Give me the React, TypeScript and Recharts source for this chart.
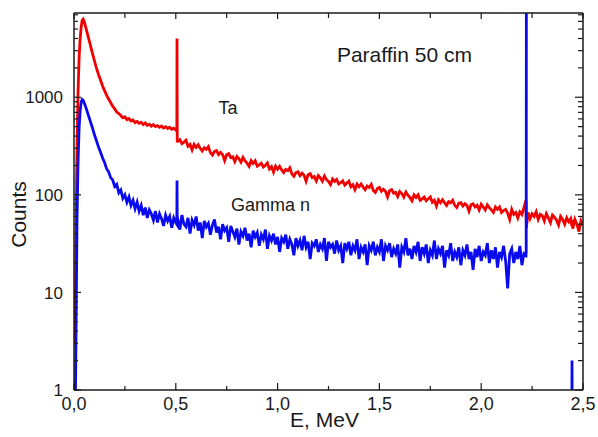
import React from 'react';
import { LineChart, Line, XAxis, YAxis, ReferenceDot } from 'recharts';

// Energy channels (MeV)
const energies = [
  0.005, 0.01, 0.015, 0.02, 0.025, 0.03, 0.035, 0.04, 0.045, 0.05,
  0.06, 0.07, 0.08, 0.09, 0.10, 0.11, 0.12, 0.13, 0.14, 0.15,
  0.16, 0.17, 0.18, 0.19, 0.20, 0.21, 0.22, 0.23, 0.24, 0.25,
  0.26, 0.27, 0.28, 0.29, 0.30, 0.31, 0.32, 0.33, 0.34, 0.35,
  0.36, 0.37, 0.38, 0.39, 0.40, 0.41, 0.42, 0.43, 0.44, 0.45,
  0.46, 0.47, 0.48, 0.49, 0.50, 0.505, 0.506, 0.507,
  0.51, 0.52, 0.53, 0.54, 0.55, 0.56, 0.57, 0.58, 0.59, 0.60,
  0.61, 0.62, 0.63, 0.64, 0.65, 0.66, 0.67, 0.68, 0.69, 0.70,
  0.71, 0.72, 0.73, 0.74, 0.75, 0.76, 0.77, 0.78, 0.79, 0.80,
  0.81, 0.82, 0.83, 0.84, 0.85, 0.86, 0.87, 0.88, 0.89, 0.90,
  0.91, 0.92, 0.93, 0.94, 0.95, 0.96, 0.97, 0.98, 0.99, 1.00,
  1.01, 1.02, 1.03, 1.04, 1.05, 1.06, 1.07, 1.08, 1.09, 1.10,
  1.11, 1.12, 1.13, 1.14, 1.15, 1.16, 1.17, 1.18, 1.19, 1.20,
  1.21, 1.22, 1.23, 1.24, 1.25, 1.26, 1.27, 1.28, 1.29, 1.30,
  1.31, 1.32, 1.33, 1.34, 1.35, 1.36, 1.37, 1.38, 1.39, 1.40,
  1.41, 1.42, 1.43, 1.44, 1.45, 1.46, 1.47, 1.48, 1.49, 1.50,
  1.51, 1.52, 1.53, 1.54, 1.55, 1.56, 1.57, 1.58, 1.59, 1.60,
  1.61, 1.62, 1.63, 1.64, 1.65, 1.66, 1.67, 1.68, 1.69, 1.70,
  1.71, 1.72, 1.73, 1.74, 1.75, 1.76, 1.77, 1.78, 1.79, 1.80,
  1.81, 1.82, 1.83, 1.84, 1.85, 1.86, 1.87, 1.88, 1.89, 1.90,
  1.91, 1.92, 1.93, 1.94, 1.95, 1.96, 1.97, 1.98, 1.99, 2.00,
  2.01, 2.02, 2.03, 2.04, 2.05, 2.06, 2.07, 2.08, 2.09, 2.10,
  2.11, 2.12, 2.13, 2.14, 2.15, 2.16, 2.17, 2.18, 2.19, 2.20,
  2.21, 2.22, 2.221, 2.222,
  2.23, 2.24, 2.25, 2.26, 2.27, 2.28, 2.29, 2.30, 2.31, 2.32,
  2.33, 2.34, 2.35, 2.36, 2.37, 2.38, 2.39, 2.40, 2.41, 2.42,
  2.43, 2.44, 2.445, 2.446, 2.447, 2.45, 2.46, 2.47, 2.48, 2.49, 2.50,
];

// Ta spectrum (red)
const taCounts = [
  3, 45, 320, 1150, 2500, 3900, 5200, 6100, 6300, 6000,
  5000, 4150, 3450, 2850, 2380, 2000, 1720, 1500, 1310, 1170,
  1050, 960, 880, 810, 760, 705, 680, 650, 615, 630,
  590, 605, 570, 585, 550, 565, 540, 555, 525, 545,
  515, 530, 505, 525, 500, 512, 492, 508, 485, 498,
  478, 492, 470, 482, 462, 468, 4000, 345,
  355, 368, 335, 347, 362, 314, 328, 288, 329, 306,
  326, 300, 281, 304, 293, 312, 271, 256, 279, 284,
  258, 272, 258, 224, 258, 264, 241, 245, 219, 247,
  235, 216, 242, 223, 211, 196, 224, 210, 223, 197,
  203, 211, 193, 201, 212, 184, 194, 171, 197, 183,
  196, 180, 169, 182, 177, 189, 164, 155, 169, 172,
  157, 167, 159, 138, 161, 165, 150, 154, 139, 157,
  149, 138, 156, 143, 137, 127, 145, 137, 144, 129,
  133, 139, 126, 132, 138, 121, 127, 113, 129, 121,
  129, 120, 113, 123, 119, 128, 111, 106, 116, 119,
  109, 114, 109, 95, 110, 113, 104, 106, 96, 108,
  103, 95, 107, 99, 94, 87, 100, 94, 100, 88,
  91, 95, 87, 91, 95, 84, 88, 77, 89, 83,
  89, 83, 78, 85, 83, 88, 78, 74, 82, 83,
  77, 81, 78, 68, 79, 81, 75, 78, 70, 80,
  75, 70, 79, 74, 70, 66, 75, 71, 75, 66,
  69, 71, 65, 56, 71, 63, 66, 58, 67, 63,
  74, 88, 58, 46,
  66, 57, 64, 60, 67, 56, 63, 61, 54, 64,
  58, 52, 62, 59, 55, 49, 60, 56, 50, 58,
  53, 57, 48, 55, 52, 45, 56, 50, 42, 54, 49,
];

// Gamma n spectrum (blue)
const gammaCounts: (number | null)[] = [
  0.3, 4, 60, 220, 480, 720, 880, 950, 930, 880,
  770, 660, 570, 490, 415, 360, 310, 275, 240, 215,
  185, 172, 150, 142, 122, 128, 105, 112, 92, 100,
  84, 95, 78, 88, 72, 84, 68, 78, 62, 74,
  58, 70, 64, 55, 68, 52, 64, 57, 48, 62,
  54, 60, 46, 58, 52, 50, 140, 54,
  56, 44, 62, 50, 47, 58, 40, 55, 49, 60,
  43, 52, 36, 54, 47, 51, 39, 49, 56, 41,
  47, 35, 50, 43, 46, 33, 48, 42, 37, 45,
  31, 42, 38, 46, 34, 40, 29, 43, 37, 41,
  30, 39, 35, 44, 28, 38, 34, 40, 31, 37,
  26, 36, 33, 39, 28, 35, 31, 24, 36, 30,
  34, 27, 38, 29, 33, 22, 32, 30, 35, 26,
  31, 28, 36, 21, 33, 29, 31, 25, 34, 27,
  30, 20, 32, 28, 33, 24, 30, 27, 35, 22,
  29, 26, 31, 19, 30, 27, 33, 24, 29, 26,
  35, 21, 30, 27, 32, 23, 28, 25, 31, 18,
  29, 26, 36, 24, 28, 22, 30, 26, 33, 21,
  29, 25, 31, 20, 27, 24, 34, 22, 28, 25,
  30, 18, 27, 24, 32, 21, 26, 23, 29, 19,
  27, 24, 31, 22, 26, 17, 28, 23, 30, 21,
  26, 24, 32, 20, 27, 22, 29, 18, 26, 23,
  30, 21, 11, 25, 28, 20, 26, 22, 30, 19,
  25, 24, 26, 30000,
  null, null, null, null, null, null, null, null, null, null,
  null, null, null, null, null, null, null, null, null, null,
  null, null, 0.3, 2, 0.3, null, null, null, null, null, null,
];

const xMajorTicks = [0, 0.5, 1.0, 1.5, 2.0, 2.5];
const xMinorTicks = [0.25, 0.75, 1.25, 1.75, 2.25];
const yMajorTicks = [1, 10, 100, 1000];
const yMinorTicks = [
  2, 3, 4, 5, 6, 7, 8, 9,
  20, 30, 40, 50, 60, 70, 80, 90,
  200, 300, 400, 500, 600, 700, 800, 900,
  2000, 3000, 4000, 5000, 6000, 7000,
];

const noteTexts = ['Paraffin 50 cm', 'Ta', 'Gamma n'];
const noteEnergies = [1.623, 0.756, 0.965];
const noteCounts = [2750, 780, 79];

const data = energies.map((e, i) => ({ e, ta: taCounts[i], gamma: gammaCounts[i] }));

const INK = '#1a1a1a';
const FONT = '"Liberation Sans", Arial, Helvetica, sans-serif';

const fmtX = (v: number) => v.toFixed(1).replace('.', ',');
const isMajorX = (v: number) => xMajorTicks.some((t) => Math.abs(t - v) < 1e-9);
const isMajorY = (v: number) => yMajorTicks.some((t) => Math.abs(t - v) < 1e-9);

const BottomTick = (p: any) => {
  const v = p.payload.value;
  const major = isMajorX(v);
  return (
    <g>
      <line x1={p.x} x2={p.x} y1={p.y} y2={p.y - (major ? 7 : 4)} stroke={INK} strokeWidth={1.2} />
      {major && (
        <text x={p.x} y={p.y + 7} dy="0.71em" textAnchor="middle" fontSize={18} fill={INK} fontFamily={FONT}>
          {fmtX(v)}
        </text>
      )}
    </g>
  );
};

const TopTick = (p: any) => {
  const major = isMajorX(p.payload.value);
  return <line x1={p.x} x2={p.x} y1={p.y} y2={p.y + (major ? 6 : 5)} stroke={INK} strokeWidth={1.2} />;
};

const LeftTick = (p: any) => {
  const v = p.payload.value;
  const major = isMajorY(v);
  return (
    <g>
      <line x1={p.x} x2={p.x + (major ? 7 : 4)} y1={p.y} y2={p.y} stroke={INK} strokeWidth={1.2} />
      {major && (
        <text x={p.x - 11} y={p.y} dy="0.36em" textAnchor="end" fontSize={17} fill={INK} fontFamily={FONT}>
          {String(v)}
        </text>
      )}
    </g>
  );
};

const RightTick = (p: any) => {
  const major = isMajorY(p.payload.value);
  return <line x1={p.x} x2={p.x - (major ? 8 : 5)} y1={p.y} y2={p.y} stroke={INK} strokeWidth={1.2} />;
};

const XTitle = (props: any) => {
  const vb = props.viewBox || { x: 74, y: 390, width: 509, height: 47 };
  return (
    <text x={vb.x + vb.width / 2 - 4} y={vb.y + vb.height - 10} textAnchor="middle" fontSize={21} fill={INK} fontFamily={FONT}>
      E, MeV
    </text>
  );
};

const YTitle = (props: any) => {
  const vb = props.viewBox || { x: 0, y: 13, width: 74, height: 377 };
  const x = vb.x + 26;
  const y = vb.y + vb.height / 2 + 13;
  return (
    <text x={x} y={y} transform={`rotate(-90 ${x} ${y})`} textAnchor="middle" fontSize={21} fill={INK} fontFamily={FONT}>
      Counts
    </text>
  );
};

const frame = { stroke: INK, strokeWidth: 1.5 };

export default function App() {
  return (
    <div style={{ position: 'absolute', left: 0, top: 0, width: 598, height: 437, background: '#fff', fontFamily: FONT }}>
      <LineChart width={598} height={437} data={data} margin={{ top: 13, right: 15, bottom: 0, left: 0 }}>
        <XAxis
          xAxisId="x"
          type="number"
          dataKey="e"
          domain={[0, 2.5]}
          allowDataOverflow
          ticks={[...xMajorTicks, ...xMinorTicks]}
          interval={0}
          height={47}
          tickSize={0}
          tickMargin={0}
          tickLine={false}
          tick={BottomTick}
          axisLine={frame}
          label={{ value: 'E, MeV', content: XTitle }}
        />
        <XAxis
          xAxisId="xt"
          orientation="top"
          mirror
          type="number"
          dataKey="e"
          domain={[0, 2.5]}
          allowDataOverflow
          ticks={[...xMajorTicks, ...xMinorTicks]}
          interval={0}
          height={1}
          tickSize={0}
          tickMargin={0}
          tickLine={false}
          tick={TopTick}
          axisLine={frame}
        />
        <YAxis
          yAxisId="y"
          type="number"
          scale="log"
          domain={[1, 7300]}
          allowDataOverflow
          ticks={[...yMajorTicks, ...yMinorTicks]}
          interval={0}
          width={74}
          tickSize={0}
          tickMargin={0}
          tickLine={false}
          tick={LeftTick}
          axisLine={frame}
          label={{ value: 'Counts', content: YTitle }}
        />
        <YAxis
          yAxisId="yr"
          orientation="right"
          mirror
          type="number"
          scale="log"
          domain={[1, 7300]}
          allowDataOverflow
          ticks={[...yMajorTicks, ...yMinorTicks]}
          interval={0}
          width={1}
          tickSize={0}
          tickMargin={0}
          tickLine={false}
          tick={RightTick}
          axisLine={frame}
        />
        <Line
          xAxisId="x"
          yAxisId="y"
          type="linear"
          dataKey="ta"
          stroke="#f20000"
          strokeWidth={2.8}
          strokeLinejoin="miter"
          dot={false}
          isAnimationActive={false}
          connectNulls={false}
        />
        <Line
          xAxisId="x"
          yAxisId="y"
          type="linear"
          dataKey="gamma"
          stroke="#0a0aee"
          strokeWidth={2.8}
          strokeLinejoin="miter"
          dot={false}
          isAnimationActive={false}
          connectNulls={false}
        />
        <ReferenceDot xAxisId="x" yAxisId="y" x={noteEnergies[0]} y={noteCounts[0]} r={1} fill="none" stroke="none"
          label={{ value: noteTexts[0], position: 'center', fontSize: 21, fill: INK }} />
        <ReferenceDot xAxisId="x" yAxisId="y" x={noteEnergies[1]} y={noteCounts[1]} r={1} fill="none" stroke="none"
          label={{ value: noteTexts[1], position: 'center', fontSize: 18, fill: INK }} />
        <ReferenceDot xAxisId="x" yAxisId="y" x={noteEnergies[2]} y={noteCounts[2]} r={1} fill="none" stroke="none"
          label={{ value: noteTexts[2], position: 'center', fontSize: 18, fill: INK }} />
      </LineChart>
    </div>
  );
}
